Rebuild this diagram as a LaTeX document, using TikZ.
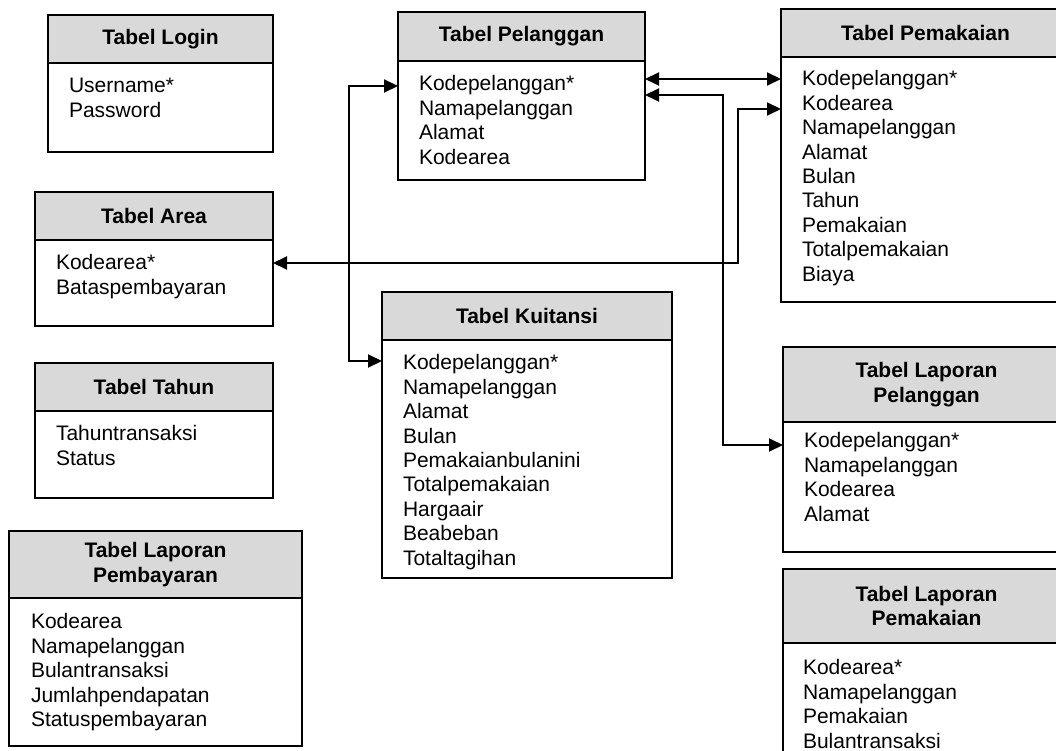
\documentclass[tikz,border=0pt]{standalone}
\usepackage{fontspec}
\setmainfont{Liberation Sans}
\usetikzlibrary{arrows.meta}
\definecolor{hdrgray}{HTML}{D9D9D9}
\tikzset{
  hdr/.style={draw, line width=2pt, fill=hdrgray, rectangle, inner sep=0pt, outer sep=0pt,
    anchor=north west, font=\fontsize{21}{24.4}\selectfont\bfseries, align=center},
  bodybox/.style={draw, line width=2pt, rectangle, inner sep=0pt, outer sep=0pt, anchor=north west},
  fields/.style={anchor=north west, inner sep=0pt, outer sep=0pt, align=left,
    font=\fontsize{21}{24.4}\selectfont},
  conn/.style={line width=2pt, {Triangle[length=14pt,width=13pt]}-{Triangle[length=14pt,width=13pt]}},
}
\begin{document}
\begin{tikzpicture}[x=1pt,y=-1pt]
\useasboundingbox (0,0) rectangle (1056,751);
\clip (0,0) rectangle (1056,751);

% Tabel Login
\node[hdr, minimum width=225pt, minimum height=48pt] (loginH) at (48,15) {Tabel Login};
\node[bodybox, minimum width=225pt, minimum height=89pt] (loginB) at (loginH.south west) {};
\node[fields] (loginF) at (69,75.9) {\strut Username*\\Password};

% Tabel Area
\node[hdr, minimum width=238pt, minimum height=48pt] (areaH) at (35,192) {Tabel Area};
\node[bodybox, minimum width=238pt, minimum height=86pt] (areaB) at (areaH.south west) {};
\node[fields] (areaF) at (56,252.9) {\strut Kodearea*\\Bataspembayaran};

% Tabel Tahun
\node[hdr, minimum width=238pt, minimum height=48pt] (tahunH) at (35,363) {Tabel Tahun};
\node[bodybox, minimum width=238pt, minimum height=87pt] (tahunB) at (tahunH.south west) {};
\node[fields] (tahunF) at (56,423.9) {\strut Tahuntransaksi\\Status};

% Tabel Laporan Pembayaran
\node[hdr, minimum width=293pt, minimum height=67pt] (lpbH) at (9,531) {Tabel Laporan\\Pembayaran};
\node[bodybox, minimum width=293pt, minimum height=148pt] (lpbB) at (lpbH.south west) {};
\node[fields] (lpbF) at (31,611.9) {\strut Kodearea\\Namapelanggan\\Bulantransaksi\\Jumlahpendapatan\\Statuspembayaran};

% Tabel Pelanggan
\node[hdr, minimum width=247pt, minimum height=49pt] (pelH) at (398,12) {Tabel Pelanggan};
\node[bodybox, minimum width=247pt, minimum height=119pt] (pelB) at (pelH.south west) {};
\node[fields] (pelF) at (419,73.9) {\strut Kodepelanggan*\\Namapelanggan\\Alamat\\Kodearea};

% Tabel Kuitansi
\node[hdr, minimum width=290pt, minimum height=48pt] (kuiH) at (382,292) {Tabel Kuitansi};
\node[bodybox, minimum width=290pt, minimum height=238pt] (kuiB) at (kuiH.south west) {};
\node[fields] (kuiF) at (403,352.9) {\strut Kodepelanggan*\\Namapelanggan\\Alamat\\Bulan\\Pemakaianbulanini\\Totalpemakaian\\Hargaair\\Beabeban\\Totaltagihan};

% Tabel Pemakaian
\node[hdr, minimum width=289pt, minimum height=48pt] (pemH) at (781,9) {Tabel Pemakaian};
\node[bodybox, minimum width=289pt, minimum height=245pt] (pemB) at (pemH.south west) {};
\node[fields] (pemF) at (802,68.9) {\strut Kodepelanggan*\\Kodearea\\Namapelanggan\\Alamat\\Bulan\\Tahun\\Pemakaian\\Totalpemakaian\\Biaya};

% Tabel Laporan Pelanggan
\node[hdr, minimum width=287pt, minimum height=75pt] (lplH) at (783,347) {Tabel Laporan\\Pelanggan};
\node[bodybox, minimum width=287pt, minimum height=130pt] (lplB) at (lplH.south west) {};
\node[fields] (lplF) at (804,430.9) {\strut Kodepelanggan*\\Namapelanggan\\Kodearea\\Alamat};

% Tabel Laporan Pemakaian
\node[hdr, minimum width=287pt, minimum height=74pt] (lpmH) at (783,569) {Tabel Laporan\\Pemakaian};
\node[bodybox, minimum width=287pt, minimum height=200pt] (lpmB) at (lpmH.south west) {};
\node[fields] (lpmF) at (803,657.9) {\strut Kodearea*\\Namapelanggan\\Pemakaian\\Bulantransaksi};

% connectors
\coordinate (cA1) at (349,361);
\coordinate (cA2) at (349,86);
\draw[conn] (kuiB.west |- cA1) -- (cA1) -- (cA2) -- (pelB.west |- cA2);

\coordinate (cB) at (700,79);
\draw[conn] (pelB.east |- cB) -- (pemB.west |- cB);

\coordinate (cC1) at (723,95);
\coordinate (cC2) at (723,445);
\draw[conn] (pelB.east |- cC1) -- (cC1) -- (cC2) -- (lplB.west |- cC2);

\coordinate (cD1) at (738,263);
\coordinate (cD2) at (738,109);
\draw[conn] (areaB.east |- cD1) -- (cD1) -- (cD2) -- (pemB.west |- cD2);
\end{tikzpicture}
\end{document}
